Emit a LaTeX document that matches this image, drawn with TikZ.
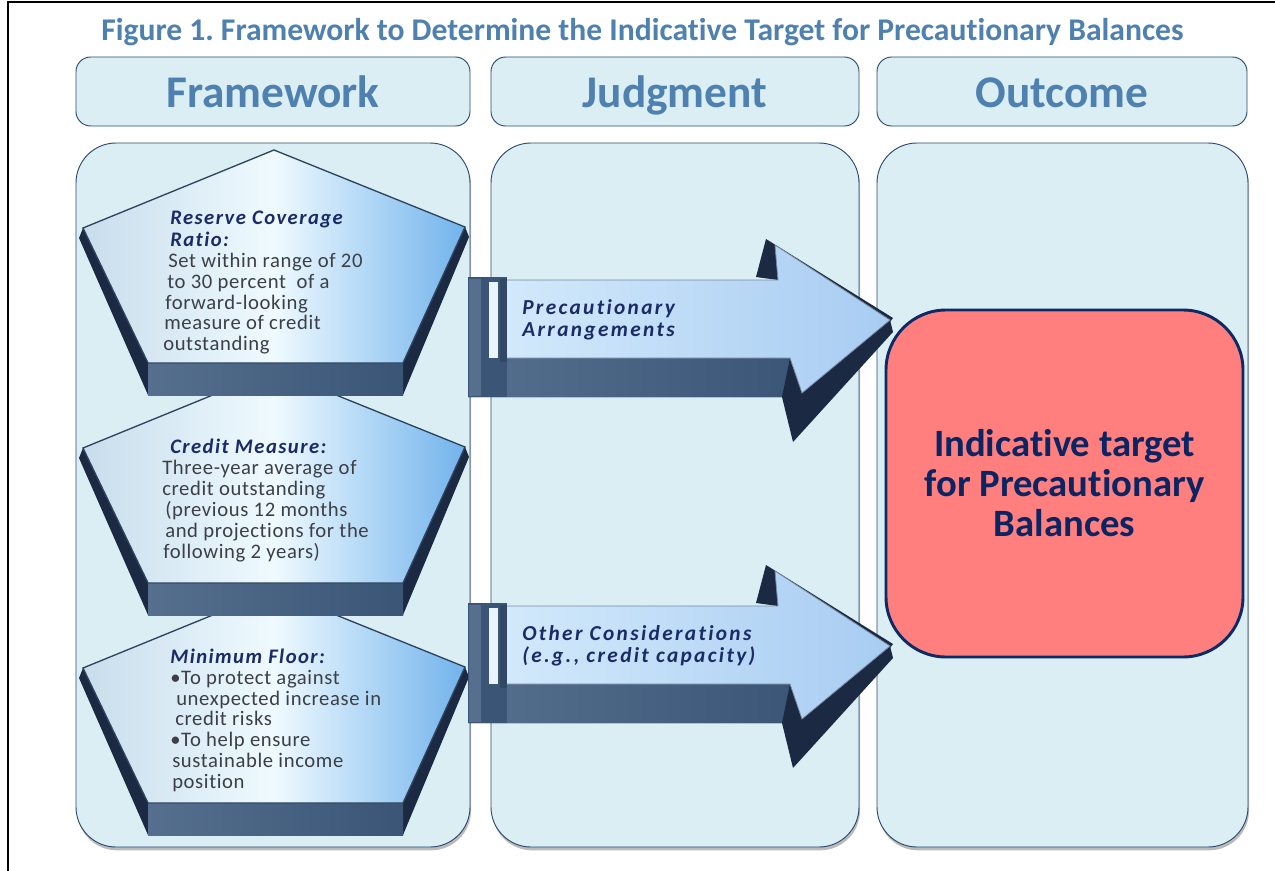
\documentclass[tikz,border=0pt]{standalone}
\usepackage{fontspec}
\setmainfont{Carlito}[Ligatures=NoCommon]
\newfontfamily\pbfont{Carlito}[Ligatures=NoCommon, LetterSpace=3]
\newfontfamily\ptfont{Carlito}[Ligatures=NoCommon, LetterSpace=7]
\newfontfamily\atfont{Carlito}[Ligatures=NoCommon, LetterSpace=11]
\frenchspacing
\usetikzlibrary{shadows}
\definecolor{ttl}{HTML}{4F81B0}
\definecolor{panelfill}{HTML}{DBEEF4}
\definecolor{panelline}{HTML}{2B4A70}
\definecolor{navy}{HTML}{1A2B66}
\definecolor{bodytxt}{HTML}{3C3F46}
\definecolor{redfill}{HTML}{FF7F7F}
\definecolor{redline}{HTML}{0C2A66}
\definecolor{redtxt}{HTML}{0B2462}
\definecolor{slab}{HTML}{3A5576}
\definecolor{slabl}{HTML}{566F8F}
\definecolor{slabdark}{HTML}{1B2A42}
\definecolor{facel}{HTML}{C8DDEC}
\definecolor{facem}{HTML}{EFFAFF}
\definecolor{facer}{HTML}{72B3EC}
\definecolor{arrl}{HTML}{D2E9FB}
\definecolor{arrr}{HTML}{A8CCF2}
\tikzset{
  hdr/.style={draw=panelline, line width=0.7pt, fill=panelfill, rounded corners=11pt, inner sep=0pt,
    font=\fontsize{34}{38}\selectfont\bfseries, text=ttl, text height=32pt, text depth=7.5pt},
  panel/.style={draw=panelline, line width=0.7pt, fill=panelfill, rounded corners=30pt,
    drop shadow={shadow xshift=0.8pt, shadow yshift=-2.5pt, fill=black!60, opacity=0.45}},
  pface/.style={draw=slab!80!black, line width=1pt, left color=facel, right color=facer, middle color=facem},
  aface/.style={draw=slab!70, line width=0.6pt, left color=arrl, right color=arrr},
  ptitle/.style={font=\ptfont\fontsize{15.5}{16}\selectfont\bfseries\itshape, text=navy, anchor=base west, inner sep=0pt},
  pbody/.style={font=\pbfont\fontsize{15.5}{16}\selectfont, text=bodytxt, anchor=base west, inner sep=0pt},
  atext/.style={font=\atfont\fontsize{16}{17}\selectfont\bfseries\itshape, text=navy, anchor=base west, inner sep=0pt},
  outbox/.style={draw=redline, line width=2.2pt, fill=redfill, rounded corners=45pt, align=center,
    font=\fontsize{29}{30}\selectfont\bfseries, text=redtxt, inner sep=0pt},
}
\newcommand\pent[1]{%
  \begin{scope}[shift={(0,#1)}]
    \fill[slabdark] (83,78) -- (148,213) -- (148,245) -- (79,88) -- cycle;
    \fill[slabdark] (465,77) -- (403,213) -- (403,245) -- (469,87) -- cycle;
    \fill[left color=slabl, right color=slab] (148,213) rectangle (403,245);
    \draw[pface] (274,0) -- (465,77) -- (403,213) -- (148,213) -- (83,78) -- cycle;
  \end{scope}}
\newcommand\bigarrow[1]{%
  \begin{scope}[shift={(0,#1)}]
    \fill[slabdark] (756,277) -- (766,239) -- (893,318) -- (890,322) -- (775,245) -- (778,280) -- cycle;
    \fill[left color=slabl, right color=slab] (468,358) -- (790,358) -- (802,393) -- (782,397) -- (468,397) -- cycle;
    \fill[slabdark] (790,358) -- (802,393) -- (890,320) -- (893,332) -- (793,442) -- (782,397) -- cycle;
    \draw[aface] (506,280) -- (778,280) -- (775,245) -- (890,320) -- (802,393) -- (790,358) -- (506,358) -- cycle;
    \fill[slab] (468,277) rectangle (507,397);
    \fill[slabl] (469,279) rectangle (481,396);
    \fill[arrl!50!white] (489,282) rectangle (498,358);
    \fill[slab!85!black] (500,279) rectangle (507,362);
  \end{scope}}
\begin{document}
\begin{tikzpicture}[x=0.75pt,y=-0.75pt]
\useasboundingbox (0,0) rectangle (1275,871);
\fill[white] (0,0) rectangle (1275,871);
\draw[line width=2pt] (8,871) -- (8,2) -- (1275,2);
% title
\node[font=\fontsize{23.7}{28}\selectfont\bfseries, text=ttl, inner sep=0pt] (title) at (642.5,32)
  {Figure 1. Framework to Determine the Indicative Target for Precautionary Balances};
% headers
\node[hdr, minimum width=394*0.75pt, minimum height=69*0.75pt] (hF) at (273,91.5) {Framework};
\node[hdr, minimum width=368*0.75pt, minimum height=69*0.75pt] (hJ) at (675,91.5) {Judgment};
\node[hdr, minimum width=370*0.75pt, minimum height=69*0.75pt] (hO) at (1062,91.5) {Outcome};
% panels
\node[panel, minimum width=394*0.75pt, minimum height=704*0.75pt] (pF) at (273,495) {};
\node[panel, minimum width=368*0.75pt, minimum height=704*0.75pt] (pJ) at (675,495) {};
\node[panel, minimum width=371*0.75pt, minimum height=704*0.75pt] (pO) at (1062.5,495) {};
% pentagons
\pent{590}
\pent{370}
\pent{150}
% pentagon texts
\node[ptitle] (a1) at (170,224) {Reserve Coverage};
\node[ptitle] (a2) at (170,246) {Ratio:};
\node[pbody] (a3) at (168,267) {Set within range of 20};
\node[pbody] (a4) at (167,288) {to 30 percent\ \ of a};
\node[pbody] (a5) at (165,309) {forward-looking};
\node[pbody] (a6) at (164,329) {measure of credit};
\node[pbody] (a7) at (163,350) {outstanding};
\node[ptitle] (b1) at (170,453) {Credit Measure:};
\node[pbody] (b2) at (162,474) {Three-year average of};
\node[pbody] (b3) at (162,495) {credit outstanding};
\node[pbody] (b4) at (165,516) {(previous 12 months};
\node[pbody] (b5) at (165,537) {and projections for the};
\node[pbody] (b6) at (163,558) {following 2 years)};
\node[ptitle] (c1) at (170,663) {Minimum Floor:};
\node[pbody] (c2) at (170,684) {•To protect against};
\node[pbody] (c3) at (176,705) {unexpected increase in};
\node[pbody] (c4) at (175,725) {credit risks};
\node[pbody] (c5) at (170,746) {•To help ensure};
\node[pbody] (c6) at (172,767) {sustainable income};
\node[pbody] (c7) at (172,788) {position};
% outcome box
\node[outbox, minimum width=357*0.75pt, minimum height=347*0.75pt] (out) at (1064.5,483.5)
  {Indicative target\\for Precautionary\\Balances};
% arrows
\bigarrow{0}
\bigarrow{326}
\node[atext] (d1) at (522,314) {Precautionary};
\node[atext] (d2) at (522,336) {Arrangements};
\node[atext] (e1) at (522,640) {Other Considerations};
\node[atext] (e2) at (522,662) {(e.g., credit capacity)};
\end{tikzpicture}
\end{document}
